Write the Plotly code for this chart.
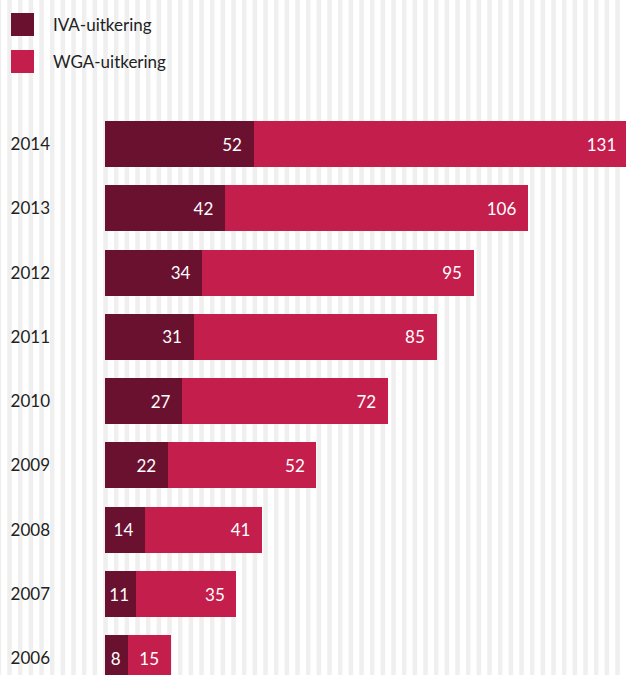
import plotly.graph_objects as go

years = ["2006", "2007", "2008", "2009", "2010", "2011", "2012", "2013", "2014"]
iva = [8, 11, 14, 22, 27, 31, 34, 42, 52]
wga = [15, 35, 41, 52, 72, 85, 95, 106, 131]
series_names = ["IVA-uitkering", "WGA-uitkering"]
series_colors = ["#6b1130", "#c41e4d"]

W, H = 626, 675
ML, MT = 105, 112
PW, PH = W - ML, H - MT


def px_x(p):
    return (p - ML) / PW


def px_y(p):
    return 1 - (p - MT) / PH


def label(v):
    # extra right padding inside the bar; narrow bars get less
    pad = "\u00a0\u00a0" if v >= 14 else "\u00a0"
    return f"{v}{pad}"


fig = go.Figure()
for name, vals, col in zip(series_names, [iva, wga], series_colors):
    fig.add_trace(go.Bar(
        y=years, x=vals, name=name, orientation="h",
        marker=dict(color=col, line=dict(width=0)),
        text=[label(v) for v in vals],
        textposition="inside", insidetextanchor="end",
        textangle=0,
        constraintext="none",
        textfont=dict(family="Lato", size=17, color="#ffffff"),
        showlegend=False, hoverinfo="skip",
    ))

shapes = []
period = 32 / 3
start = 7.3 - period
k = 0
while start + k * period < W:
    x0 = start + k * period
    shapes.append(dict(type="rect", xref="paper", yref="paper",
                       x0=px_x(x0), x1=px_x(x0 + 4.5),
                       y0=px_y(H + 5), y1=px_y(-5),
                       fillcolor="#efefef", line=dict(width=0), layer="below"))
    k += 1

annotations = []
for i, (name, col) in enumerate(zip(series_names, series_colors)):
    top = 13 + i * 37
    shapes.append(dict(type="rect", xref="paper", yref="paper",
                       x0=px_x(11), x1=px_x(34), y0=px_y(top + 23), y1=px_y(top),
                       fillcolor=col, line=dict(width=0), layer="above"))
    annotations.append(dict(xref="paper", yref="paper", x=px_x(51), y=px_y(top + 11.5),
                            xanchor="left", yanchor="middle", text=name, showarrow=False,
                            font=dict(family="Lato", size=17, color="#222222")))

fig.update_layout(
    width=W, height=H,
    margin=dict(l=ML, r=0, t=MT, b=0, pad=0),
    barmode="stack", bargap=0.284,
    paper_bgcolor="#ffffff", plot_bgcolor="rgba(0,0,0,0)",
    font=dict(family="Lato", size=17, color="#222222"),
    xaxis=dict(range=[0, 182.3], visible=False, fixedrange=True),
    yaxis=dict(type="category", categoryorder="array", categoryarray=years,
               range=[-0.26, 8.5], showgrid=False, zeroline=False, showline=False,
               ticks="", ticklabelstandoff=54,
               tickfont=dict(family="Lato", size=17, color="#222222"), fixedrange=True),
    shapes=shapes, annotations=annotations,
)

fig.write_html("out.html")
